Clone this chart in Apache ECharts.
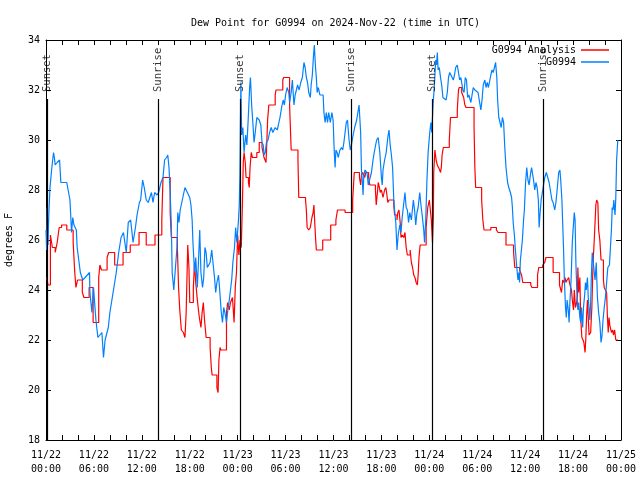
<!DOCTYPE html>
<html>
<head>
<meta charset="utf-8">
<script src="https://cdn.jsdelivr.net/npm/echarts@6/dist/echarts.min.js"></script>
<style>html,body{margin:0;padding:0;background:#fff}#c{width:640px;height:480px}</style>
</head>
<body>
<div id="c"></div>
<script>
var titleText = 'Dew Point for G0994 on 2024-Nov-22 (time in UTC)';
var seriesNames = ['G0994 Analysis', 'G0994'];
var xTickLabels = ['11/22\n00:00','11/22\n06:00','11/22\n12:00','11/22\n18:00','11/23\n00:00','11/23\n06:00','11/23\n12:00','11/23\n18:00','11/24\n00:00','11/24\n06:00','11/24\n12:00','11/24\n18:00','11/25\n00:00'];
var sunHours = [0.2, 14.1, 24.3, 38.2, 48.35, 62.25];
var sunLabels = ['Sunset','Sunrise','Sunset','Sunrise','Sunset','Sunrise'];

var redHours = [0.1,0.25,0.55,0.8,1.15,1.4,1.65,1.95,2.6,3.4,3.6,3.75,3.95,4.55,4.75,5.4,5.9,6.6,6.75,6.95,7.65,7.85,8.6,9.65,10.55,11.65,12.55,13.65,14.5,14.65,15.55,15.7,16.45,16.6,16.75,16.95,17.2,17.4,17.55,17.75,17.9,18.0,18.45,18.6,18.75,18.95,19.2,19.4,19.55,19.7,19.85,20.05,20.55,20.7,20.8,21.4,21.55,21.65,21.8,21.9,22.6,22.75,22.95,23.1,23.35,23.55,23.7,23.85,24.0,24.15,24.3,24.45,24.6,24.7,24.8,24.95,25.05,25.35,25.45,25.55,25.7,25.85,26.4,26.7,27.05,27.3,27.55,27.65,27.75,27.9,28.7,28.8,29.65,29.75,30.5,30.7,31.55,31.65,32.5,32.6,32.7,32.9,33.1,33.3,33.45,33.55,33.65,33.75,33.85,34.65,35.65,36.3,36.5,37.45,38.4,38.6,39.25,39.4,39.5,39.65,39.9,40.05,40.4,40.55,41.25,41.35,41.5,41.6,41.75,41.85,42.0,42.2,42.4,42.55,42.65,42.8,42.95,43.55,43.65,43.95,44.05,44.2,44.35,44.45,44.6,44.8,44.95,45.1,45.25,45.6,45.75,45.9,46.05,46.2,46.35,46.5,46.6,46.7,46.85,47.6,47.8,48.0,48.25,48.4,48.5,48.55,48.7,48.85,49.0,49.15,49.3,49.4,49.5,49.6,49.75,50.5,50.65,51.5,51.65,51.75,52.05,52.3,52.45,52.6,53.6,53.7,53.8,54.55,54.7,54.85,55.7,56.4,56.6,57.6,58.55,58.7,59.3,59.55,59.7,60.7,60.85,61.55,61.7,62.2,62.45,62.6,63.5,64.3,64.55,64.7,64.85,65.0,65.1,65.25,65.45,65.55,65.7,65.8,65.9,66.05,66.15,66.3,66.45,66.55,66.6,66.7,66.85,66.95,67.1,67.25,67.35,67.5,67.6,67.7,67.8,67.9,68.0,68.2,68.35,68.45,68.55,68.65,68.75,68.85,68.95,69.1,69.2,69.35,69.5,69.65,69.8,69.9,70.05,70.2,70.3,70.4,70.5,70.6,70.8,70.95,71.05,71.2,71.35,71.6];
var redValues = [24.5,24.2,26.2,25.7,25.5,25.9,26.5,26.6,26.4,25.9,24.7,24.1,24.4,23.9,23.7,24.1,22.7,24.5,25.0,24.8,25.3,25.5,25.0,25.5,25.8,26.3,25.8,26.2,26.8,28.5,27.1,26.1,25.7,24.1,23.2,22.4,22.3,22.1,23.1,25.8,24.9,23.5,24.1,25.1,24.3,23.6,22.9,22.5,23.1,23.5,22.8,22.1,21.7,20.9,20.6,20.1,19.9,21.2,21.7,21.6,23.1,23.5,23.2,23.5,23.7,22.7,24.1,24.7,26.2,25.4,26.0,25.7,27.5,29.1,29.5,29.1,28.5,28.3,28.1,28.9,29.5,29.3,29.5,29.9,29.7,29.3,29.1,29.9,30.8,31.4,31.8,32.0,32.4,32.5,31.4,29.6,29.2,27.7,27.6,27.2,26.5,26.4,26.5,26.9,27.1,27.4,26.7,26.1,25.6,26.0,26.6,26.8,27.2,27.1,27.6,28.7,28.5,28.2,28.6,28.7,28.5,28.7,28.5,28.2,28.0,27.4,27.9,28.3,28.1,27.9,28.0,27.7,28.0,28.1,27.9,27.5,27.6,27.4,27.0,26.8,27.1,27.2,26.7,26.1,26.2,26.1,26.3,25.7,25.4,25.6,25.1,24.9,24.6,24.5,24.3,24.2,24.6,25.3,25.8,26.5,27.3,27.6,26.8,25.9,26.9,28.7,29.6,29.2,29.0,28.9,28.8,28.7,28.9,29.4,29.7,30.0,30.9,31.2,32.0,32.1,31.9,31.7,31.4,31.3,30.5,28.9,28.1,27.6,26.8,26.4,26.5,26.4,26.3,25.8,25.5,24.9,24.8,24.6,24.3,24.2,24.1,24.6,24.9,25.0,25.1,25.3,24.7,24.2,23.9,24.4,24.3,24.5,24.3,24.4,24.5,24.3,24.1,24.0,23.6,23.2,24.0,23.3,23.5,23.8,24.9,23.9,24.5,22.9,22.1,22.0,21.9,21.5,22.1,23.0,23.6,22.9,22.2,22.3,23.3,24.5,25.4,26.0,26.7,27.4,27.6,27.5,26.4,26.0,25.2,25.2,24.4,24.1,24.0,23.9,22.9,22.3,22.9,22.6,22.3,22.4,22.2,22.4,22.0,22.0];

var blueHours = [0.0,0.08,0.15,0.25,0.35,0.5,0.7,0.94,1.05,1.15,1.4,1.7,1.86,2.6,3.0,3.2,3.35,3.5,3.8,3.9,4.3,4.6,4.9,5.45,5.5,5.75,5.95,6.25,6.5,7.0,7.2,7.4,7.8,8.0,8.45,8.8,9.1,9.4,9.7,10.05,10.3,10.6,10.9,11.2,11.4,11.7,11.85,12.1,12.3,12.55,12.8,13.2,13.4,13.6,13.9,14.1,14.4,14.65,14.85,15.1,15.25,15.4,15.55,15.7,15.8,16.0,16.2,16.4,16.5,16.65,16.8,17.0,17.2,17.4,17.7,18.0,18.15,18.3,18.4,18.6,18.75,18.95,19.1,19.25,19.4,19.6,19.75,19.9,20.05,20.2,20.4,20.55,20.75,21.0,21.1,21.25,21.4,21.6,21.75,21.95,22.1,22.25,22.4,22.6,22.8,22.95,23.1,23.25,23.4,23.6,23.75,23.9,24.1,24.2,24.28,24.4,24.5,24.65,24.8,25.0,25.15,25.3,25.5,25.6,25.75,25.9,26.05,26.2,26.4,26.7,26.9,27.05,27.2,27.3,27.45,27.6,27.8,28.0,28.2,28.4,28.7,28.95,29.1,29.3,29.5,29.7,29.85,30.0,30.2,30.4,30.5,30.7,30.85,31.05,31.2,31.35,31.5,31.7,31.9,32.1,32.3,32.45,32.6,32.75,32.9,33.1,33.2,33.35,33.5,33.6,33.75,33.85,33.95,34.1,34.3,34.7,34.8,34.95,35.1,35.25,35.4,35.6,35.8,35.95,36.1,36.2,36.3,36.45,36.6,36.8,37.0,37.15,37.3,37.45,37.6,37.75,37.95,38.1,38.25,38.4,38.65,38.9,39.2,39.4,39.5,39.6,39.7,39.8,39.95,40.2,40.35,40.55,40.75,40.95,41.1,41.4,41.6,41.8,42.0,42.1,42.2,42.4,42.6,42.8,42.95,43.1,43.25,43.4,43.55,43.65,43.8,43.95,44.1,44.3,44.45,44.6,44.8,44.95,45.1,45.25,45.4,45.55,45.75,46.0,46.15,46.3,46.45,46.6,46.8,46.95,47.1,47.3,47.4,47.55,47.7,47.85,48.05,48.2,48.3,48.5,48.6,48.7,48.8,48.9,49.0,49.1,49.25,49.4,49.55,49.7,49.9,50.1,50.25,50.4,50.55,50.7,50.85,51.0,51.15,51.3,51.5,51.6,51.8,51.95,52.1,52.2,52.35,52.5,52.65,52.8,52.95,53.2,53.35,53.5,53.7,53.9,54.1,54.3,54.45,54.6,54.75,54.95,55.1,55.25,55.4,55.55,55.7,55.85,56.0,56.15,56.3,56.45,56.55,56.7,56.85,57.0,57.15,57.3,57.45,57.6,57.8,57.95,58.15,58.3,58.4,58.5,58.65,58.8,58.95,59.1,59.2,59.3,59.4,59.5,59.65,59.8,59.9,60.05,60.2,60.35,60.5,60.65,60.8,60.95,61.05,61.2,61.35,61.5,61.65,61.75,61.85,62.0,62.15,62.3,62.45,62.65,62.85,63.0,63.2,63.35,63.5,63.7,63.85,64.0,64.2,64.35,64.45,64.6,64.8,64.9,65.05,65.15,65.25,65.4,65.5,65.6,65.75,65.9,66.0,66.15,66.25,66.35,66.5,66.6,66.7,66.85,66.95,67.05,67.2,67.3,67.45,67.55,67.65,67.8,67.9,68.1,68.2,68.3,68.4,68.5,68.65,68.75,68.9,69.05,69.2,69.35,69.5,69.6,69.75,69.9,70.05,70.2,70.35,70.55,70.8,70.9,71.0,71.1,71.25,71.35,71.45,71.6];
var blueValues = [26.4,25.6,27.3,25.8,27.0,28.1,28.8,29.5,29.3,29.0,29.1,29.2,28.3,28.3,27.6,26.3,26.9,26.6,26.4,25.7,24.7,24.4,24.5,24.7,23.9,23.1,24.1,22.8,22.1,22.3,21.3,22.0,22.5,23.1,24.0,24.7,25.5,26.1,26.3,25.5,26.7,26.8,25.9,26.5,27.0,27.5,27.6,28.4,28.1,27.6,27.5,27.9,27.5,27.9,27.8,27.9,28.3,28.5,29.2,29.3,29.4,28.9,27.9,26.5,24.7,24.0,24.0,25.7,27.1,26.7,27.2,27.5,27.5,28.1,27.9,27.7,27.4,26.8,25.9,24.7,25.3,24.1,25.2,26.4,24.7,24.1,24.5,25.7,25.5,24.9,24.9,25.1,25.6,25.6,24.5,23.9,24.3,24.6,24.0,23.1,22.7,23.3,23.1,22.7,23.3,23.6,24.0,24.4,25.1,25.7,26.5,25.9,26.8,27.4,28.6,32.3,30.2,30.5,29.5,30.2,29.8,30.7,32.1,32.5,31.4,30.7,29.9,30.3,30.9,30.8,30.6,29.9,29.8,29.4,29.5,29.9,30.0,30.3,30.5,30.3,30.5,30.4,30.6,30.9,31.3,31.6,31.4,31.8,32.1,31.9,31.5,31.9,32.4,31.4,31.8,32.0,32.2,32.0,32.3,32.5,33.1,32.9,32.5,32.3,31.9,31.7,32.2,32.6,33.4,33.8,32.9,32.5,31.9,32.1,31.8,31.8,31.1,30.7,31.1,30.7,31.1,30.7,31.1,30.8,29.5,28.9,29.6,29.5,29.3,29.6,29.7,29.6,29.9,30.3,30.7,30.8,30.0,29.6,29.8,30.1,30.5,30.8,31.4,30.3,28.8,28.4,27.8,28.6,28.8,28.7,28.2,28.2,28.7,29.2,29.5,30.0,30.1,29.5,28.5,28.2,28.8,29.2,29.5,30.1,30.4,29.8,29.4,28.9,27.6,27.2,26.7,25.6,26.2,26.6,26.3,26.9,26.9,27.9,27.3,27.2,26.7,27.1,26.8,27.6,27.2,26.6,27.1,27.3,27.9,27.4,27.0,26.4,25.9,26.8,28.4,29.5,30.3,30.7,30.3,31.6,32.0,32.6,33.2,33.0,33.5,32.8,32.9,32.5,32.2,31.7,31.7,31.6,31.9,32.5,32.7,32.7,32.5,32.4,32.6,32.9,33.0,32.8,32.4,32.5,32.2,32.0,31.9,32.5,32.4,31.7,31.8,31.5,31.8,32.1,32.0,32.0,31.9,31.5,31.2,31.6,32.2,32.4,32.1,32.3,32.1,32.1,32.6,32.8,32.7,32.9,33.1,32.5,31.6,30.9,30.9,30.5,30.9,30.7,29.7,28.9,28.3,28.1,27.9,27.7,27.3,26.7,26.2,25.5,24.9,24.4,24.7,24.3,25.2,25.5,26.0,26.8,27.2,28.3,28.9,28.4,28.2,28.6,28.9,28.9,28.4,28.0,28.3,28.1,27.6,26.5,27.0,27.6,27.9,28.2,28.5,28.7,28.7,28.3,27.9,27.6,27.5,27.2,27.5,28.0,28.7,28.8,28.4,27.6,25.7,24.5,23.3,22.9,23.6,23.2,22.7,23.5,24.4,25.9,26.4,27.1,26.8,25.1,23.7,23.2,23.5,22.9,22.7,23.3,22.5,23.3,23.8,24.3,24.0,24.5,23.7,22.8,23.5,24.7,25.5,25.2,24.7,24.4,25.1,23.7,23.1,22.7,21.9,22.1,22.8,23.3,23.7,24.3,24.9,25.0,26.4,27.3,27.2,27.6,27.0,27.7,29.2,30.0];

function zip(a, b) { return a.map(function (x, i) { return [x, b[i]]; }); }

var FONT = 'DejaVu Sans Mono';
var LINE_TOP = 31.64;
var LABEL_BASE = 31.92;
var RED = '#ff0000';
var BLUE = '#0080ff';

var chart = echarts.init(document.getElementById('c'), null, { renderer: 'canvas' });
var axisCommon = {
  min: 0, max: 72, interval: 2,
  axisLine: { show: true, onZero: false, lineStyle: { color: '#000', width: 1 } },
  axisTick: { show: true, inside: true, length: 5, lineStyle: { color: '#000' } },
  splitLine: { show: false }
};
var yCommon = {
  min: 18, max: 34, interval: 2,
  axisLine: { show: true, onZero: false, lineStyle: { color: '#000', width: 1 } },
  axisTick: { show: true, inside: true, length: 5, lineStyle: { color: '#000' } },
  splitLine: { show: false }
};

chart.setOption({
  animation: false,
  backgroundColor: '#fff',
  textStyle: { fontFamily: FONT },
  title: {
    text: titleText, left: 186, top: 13,
    textStyle: { fontFamily: FONT, fontSize: 10, fontWeight: 'normal', color: '#000' }
  },
  legend: {
    data: [
      { name: seriesNames[0], icon: 'rect', itemStyle: { color: RED } },
      { name: seriesNames[1], icon: 'rect', itemStyle: { color: BLUE } }
    ],
    orient: 'vertical', right: 31, top: 44, align: 'right', padding: 0,
    itemWidth: 28, itemHeight: 1.5, itemGap: 0,
    textStyle: { fontFamily: FONT, fontSize: 10, color: '#000', lineHeight: 12 }
  },
  grid: { left: 46, right: 19, top: 40, bottom: 40, containLabel: false, outerBoundsMode: 'none' },
  xAxis: [
    Object.assign({ type: 'value', position: 'bottom',
      axisLabel: { show: true, margin: 8, fontFamily: FONT, fontSize: 10, color: '#000', lineHeight: 14,
        showMinLabel: true, showMaxLabel: true,
        formatter: function (v) { return (v % 6 === 0) ? xTickLabels[v / 6] : ''; } } }, axisCommon),
    Object.assign({ type: 'value', position: 'top', axisLabel: { show: false } }, axisCommon)
  ],
  yAxis: [
    Object.assign({ type: 'value', position: 'left',
      name: 'degrees F', nameLocation: 'middle', nameGap: 32, nameRotate: 90,
      nameTextStyle: { fontFamily: FONT, fontSize: 10, color: '#000' },
      axisLabel: { margin: 6, fontFamily: FONT, fontSize: 10, color: '#000' } }, yCommon),
    Object.assign({ type: 'value', position: 'right', axisLabel: { show: false } }, yCommon)
  ],
  series: [
    {
      name: seriesNames[0], type: 'line', step: 'end', symbol: 'none', showSymbol: false,
      data: zip(redHours, redValues),
      lineStyle: { color: RED, width: 1.2 }, itemStyle: { color: RED },
      z: 3,
      markLine: {
        silent: true, symbol: ['none', 'none'], animation: false,
        label: { show: false },
        lineStyle: { color: '#000', width: 1.2, type: 'solid' },
        data: sunHours.map(function (h) { return [{ coord: [h, 18] }, { coord: [h, LINE_TOP] }]; })
      }
    },
    {
      name: seriesNames[1], type: 'line', symbol: 'none', showSymbol: false,
      data: zip(blueHours, blueValues),
      lineStyle: { color: BLUE, width: 1.2 }, itemStyle: { color: BLUE },
      z: 4
    },
    {
      name: 'sun', type: 'scatter', symbolSize: 0, silent: true, z: 5,
      data: sunHours.map(function (h, i) { return { value: [h, LABEL_BASE], name: sunLabels[i] }; }),
      label: {
        show: true, position: [0, 0], rotate: 90, align: 'left', verticalAlign: 'middle',
        offset: [0, 0],
        formatter: function (p) { return p.name; },
        fontFamily: FONT, fontSize: 10.5, color: '#000',
        textBorderWidth: 0, textBorderColor: 'transparent', textShadowBlur: 0
      }
    }
  ]
});
</script>
</body>
</html>
